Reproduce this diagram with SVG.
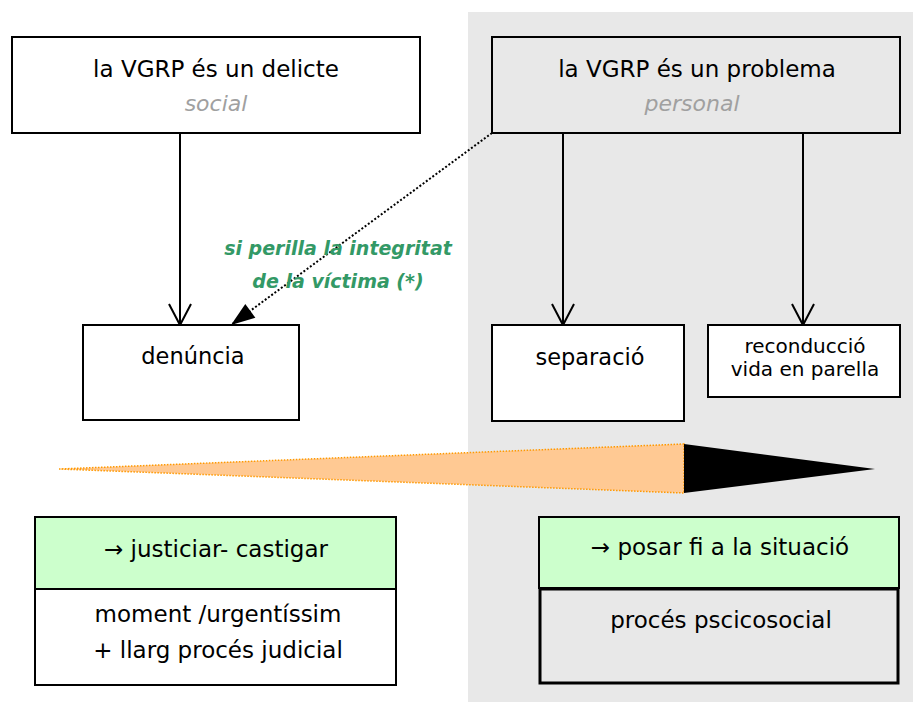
<svg xmlns="http://www.w3.org/2000/svg" width="913" height="702" viewBox="0 0 913 702">
  <style>
    .box { fill: #ffffff; stroke: #000000; stroke-width: 2; }
    .gbox { fill: #e8e8e8; stroke: #000000; stroke-width: 2; }
    .green { fill: #ccffcc; stroke: #000000; stroke-width: 2; }
    .t { font-family: "DejaVu Sans", "Liberation Sans", sans-serif; fill: #000000; text-anchor: middle; }
    .sub { font-family: "DejaVu Sans", "Liberation Sans", sans-serif; font-style: italic; fill: #a0a0a0; text-anchor: middle; font-size: 22px; }
    .lbl { font-family: "DejaVu Sans", "Liberation Sans", sans-serif; font-style: italic; font-weight: bold; fill: #339966; text-anchor: middle; font-size: 19px; }
    .conn { stroke: #000000; stroke-width: 2; fill: none; }
  </style>
  <defs>
    <marker id="openV" markerUnits="userSpaceOnUse" markerWidth="30" markerHeight="30" viewBox="-25 -15 30 30" refX="0" refY="0" orient="auto" overflow="visible">
      <path d="M -21,-11 L 0,0 L -21,11" fill="none" stroke="#000000" stroke-width="2"/>
    </marker>
    <marker id="solid" markerUnits="userSpaceOnUse" markerWidth="30" markerHeight="30" viewBox="-25 -15 30 30" refX="0" refY="0" orient="auto" overflow="visible">
      <path d="M -24,-8.5 L 0,0 L -24,8.5 Z" fill="#000000" stroke="none"/>
    </marker>
  </defs>

  <rect x="0" y="0" width="913" height="702" fill="#ffffff"/>
  <rect id="personal-zone" x="468" y="12" width="445" height="690" fill="#e8e8e8"/>

  <g id="connectors">
    <line class="conn" x1="180" y1="134" x2="180" y2="325" marker-end="url(#openV)"/>
    <line class="conn" x1="563" y1="134" x2="563" y2="325" marker-end="url(#openV)"/>
    <line class="conn" x1="803" y1="134" x2="803" y2="325" marker-end="url(#openV)"/>
    <line x1="492" y1="133" x2="231" y2="325" stroke="#000000" stroke-width="2" stroke-dasharray="2,2" marker-end="url(#solid)"/>
  </g>

  <g id="delicte">
    <rect class="box" x="12" y="37" width="408" height="96"/>
    <text class="t" x="216" y="77" font-size="23">la VGRP és un delicte</text>
    <text class="sub" x="216" y="111">social</text>
  </g>

  <g id="problema">
    <rect class="gbox" x="492" y="37" width="408" height="96"/>
    <text class="t" x="697" y="77" font-size="23">la VGRP és un problema</text>
    <text class="sub" x="692" y="111">personal</text>
  </g>

  <g id="denuncia">
    <rect class="box" x="83" y="325" width="216" height="95"/>
    <text class="t" x="193" y="364" font-size="22.5">denúncia</text>
  </g>

  <g id="separacio">
    <rect class="box" x="492" y="325" width="192" height="96"/>
    <text class="t" x="590" y="365" font-size="22.5">separació</text>
  </g>

  <g id="reconduccio">
    <rect class="box" x="708" y="325" width="192" height="72"/>
    <text class="t" x="805" y="353" font-size="20">reconducció</text>
    <text class="t" x="805" y="376" font-size="20">vida en parella</text>
  </g>

  <g id="label-integritat">
    <text class="lbl" x="338" y="255">si perilla la integritat</text>
    <text class="lbl" x="338" y="288">de la víctima (*)</text>
  </g>

  <g id="gradient-arrow">
    <polygon points="59,469 684,444 684,493" fill="#ffc993" stroke="#ff9900" stroke-width="1.5" stroke-dasharray="1.5,1.5"/>
    <polygon points="684,444 875,469 684,493" fill="#000000"/>
  </g>

  <g id="justiciar">
    <rect class="green" x="35" y="517" width="361" height="72"/>
    <rect class="box" x="35" y="589" width="361" height="96"/>
    <text class="t" x="216" y="557" font-size="23">→ justiciar- castigar</text>
    <text class="t" x="218" y="622" font-size="23">moment /urgentíssim</text>
    <text class="t" x="218" y="658" font-size="23">+ llarg procés judicial</text>
  </g>

  <g id="posar-fi">
    <rect class="green" x="539" y="517" width="360" height="71"/>
    <rect x="540" y="589" width="358" height="94" fill="#e8e8e8" stroke="#000000" stroke-width="3"/>
    <text class="t" x="720" y="555" font-size="23">→ posar fi a la situació</text>
    <text class="t" x="721" y="628" font-size="23">procés pscicosocial</text>
  </g>
</svg>
